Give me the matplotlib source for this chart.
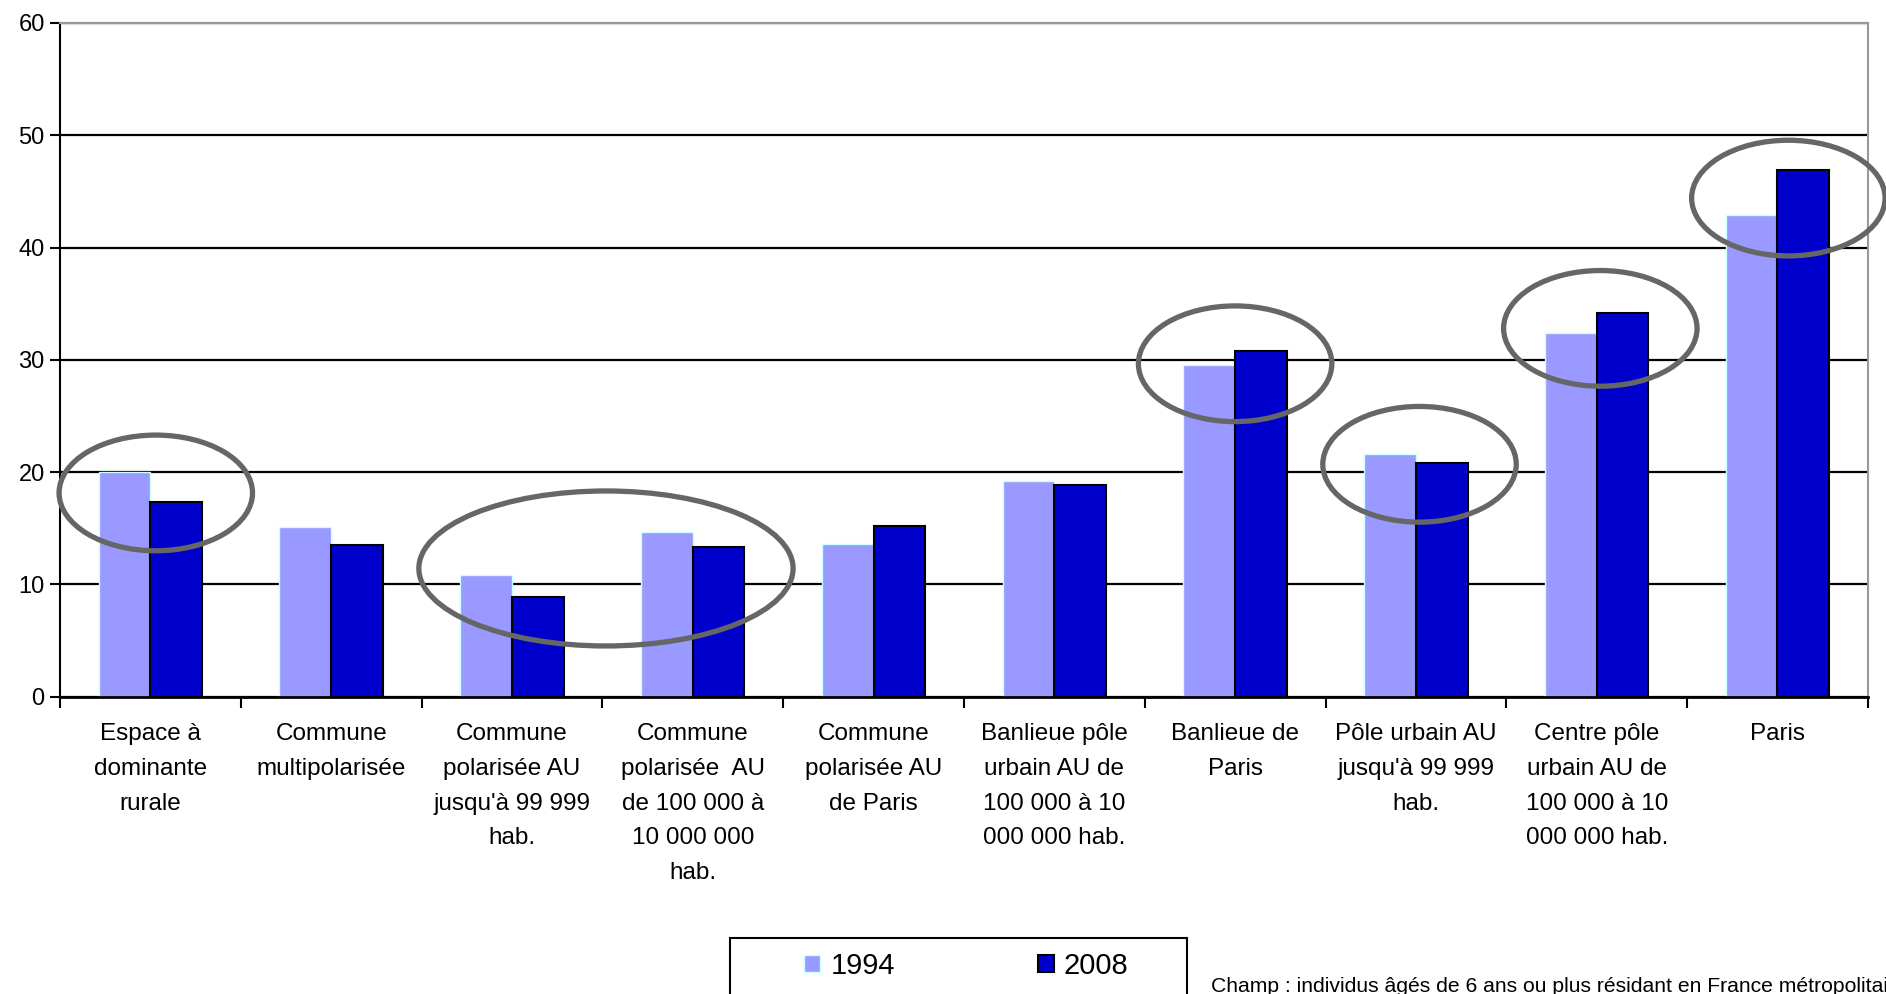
import matplotlib.pyplot as plt
import numpy as np
from matplotlib.patches import Ellipse, Rectangle

plt.rcParams['font.family'] = ['Liberation Sans', 'DejaVu Sans']

# données
categories = [
    "Espace à\ndominante\nrurale",
    "Commune\nmultipolarisée",
    "Commune\npolarisée AU\njusqu'à 99 999\nhab.",
    "Commune\npolarisée  AU\nde 100 000 à\n10 000 000\nhab.",
    "Commune\npolarisée AU\nde Paris",
    "Banlieue pôle\nurbain AU de\n100 000 à 10\n000 000 hab.",
    "Banlieue de\nParis",
    "Pôle urbain AU\njusqu'à 99 999\nhab.",
    "Centre pôle\nurbain AU de\n100 000 à 10\n000 000 hab.",
    "Paris",
]
val_1994 = [20.0, 15.1, 10.8, 14.7, 13.6, 19.2, 29.5, 21.6, 32.4, 42.9]
val_2008 = [17.3, 13.5, 8.9, 13.3, 15.2, 18.9, 30.8, 20.8, 34.2, 46.9]
years = ["1994", "2008"]
# groupes entourés (premier, dernier indice, décalage)
cercles = [(0, 0, 0.03), (2, 3, 0.02), (6, 6, 0.0), (7, 7, 0.02),
           (8, 8, 0.02), (9, 9, 0.06)]

fig = plt.figure(figsize=(18.86, 9.94), dpi=100)
ax = fig.add_axes([0.0318, 0.299, 0.9586, 0.678])

x = np.arange(len(categories))
w = 0.286
ax.bar(x - w / 2, val_1994, w, color="#9999ff", edgecolor="#ccffff",
       linewidth=1, label=years[0], zorder=2)
ax.bar(x + w / 2, val_2008, w, color="#0000cc", edgecolor="black",
       linewidth=1.5, label=years[1], zorder=2)

# ellipses grises
for a, b, dx in cercles:
    vals = val_1994[a:b + 1] + val_2008[a:b + 1]
    cx = (a + b) / 2 + dx
    cy = np.mean(vals) - 0.5
    larg = b - a + 1.07
    haut = 10.3 if a == b else 13.8
    e = Ellipse((cx, cy), larg, haut, fill=False, edgecolor="#666666",
                linewidth=3.8, zorder=5, clip_on=False)
    ax.add_patch(e)

ax.set_xlim(-0.5, len(categories) - 0.5)
ax.set_ylim(0, 60)
ax.set_yticks(np.arange(0, 61, 10))
ax.set_xticks(x)
ax.set_xticklabels(categories, fontsize=17.5, linespacing=1.75)
ax.set_xticks(np.arange(-0.5, len(categories), 1), minor=True)
ax.tick_params(axis="x", which="major", length=0, pad=19)
ax.tick_params(axis="x", which="minor", length=8, width=1.5, direction="out")
ax.tick_params(axis="y", length=7, width=1.5, direction="out", labelsize=17,
               pad=4)

ax.set_axisbelow(True)
ax.yaxis.grid(True, color="black", linewidth=1.6)
ax.spines["left"].set_linewidth(1.5)
ax.spines["bottom"].set_linewidth(2)
ax.spines["top"].set_color("#999999")
ax.spines["right"].set_color("#999999")
ax.spines["top"].set_linewidth(1.6)
ax.spines["right"].set_linewidth(1.5)

# cadre de la légende (coupé par le bas de l'image)
cadre = Rectangle((0.387, -0.05), 0.2423, 0.1063, transform=fig.transFigure,
                  fill=False, edgecolor="black", linewidth=1.5)
fig.add_artist(cadre)
leg = fig.legend(loc="center left", bbox_to_anchor=(0.4263, 0.0282),
                 ncol=2, fontsize=21, frameon=False,
                 handlelength=0.55, handleheight=0.55, handletextpad=0.35,
                 columnspacing=4.9, borderpad=0, borderaxespad=0)

fig.text(0.642, 0.008, "Champ : individus âgés de 6 ans ou plus résidant en "
         "France métropolitaine.", fontsize=15.2, va="center", ha="left")

plt.savefig("out.png")
